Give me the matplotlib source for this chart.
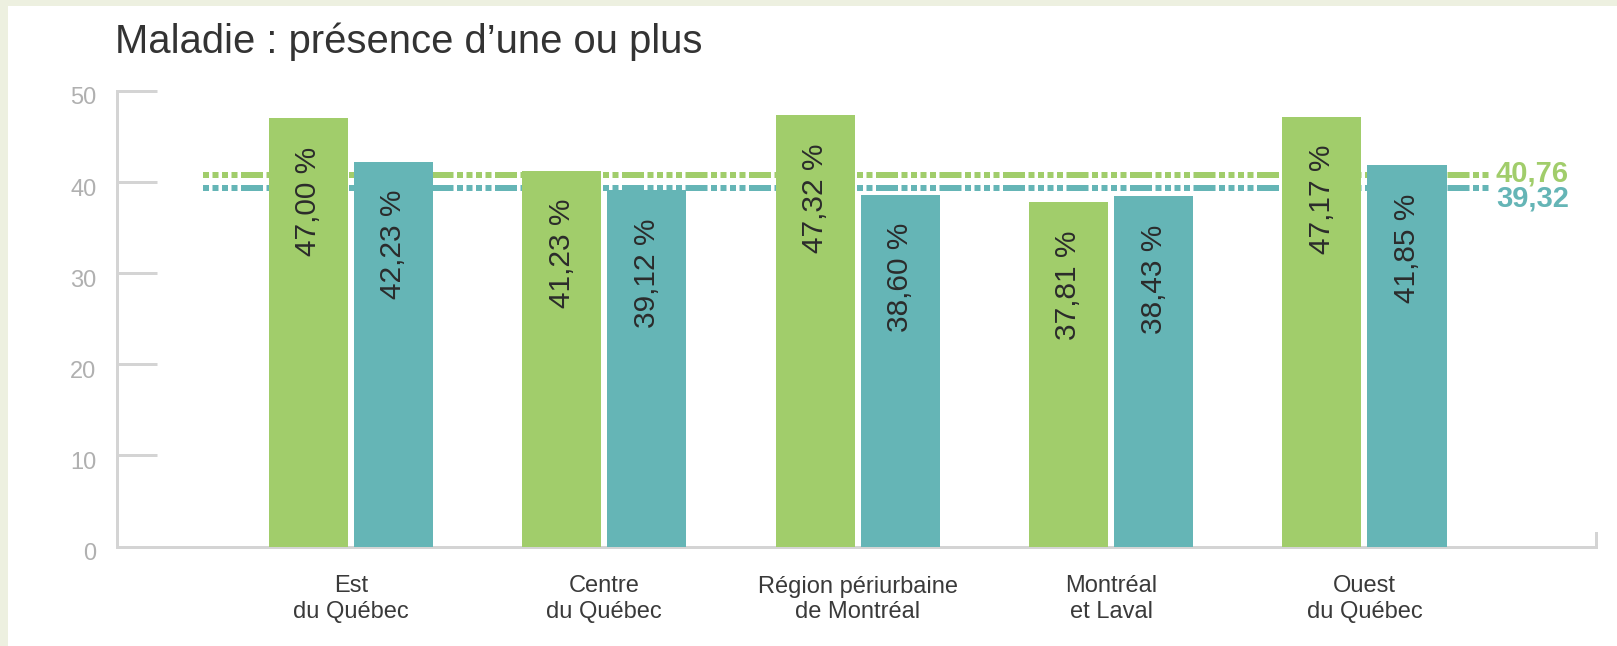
"""
Bar chart: Maladie : présence d'une ou plus, by region.
"""

import matplotlib
matplotlib.use("Agg")  # Non-interactive backend
import matplotlib.pyplot as plt
from matplotlib.patches import Rectangle
from matplotlib.transforms import ScaledTranslation
import numpy as np

# Data
categories = [
    "Est\ndu Québec",
    "Centre\ndu Québec",
    "Région périurbaine\nde Montréal",
    "Montréal\net Laval",
    "Ouest\ndu Québec",
]
green_values = [47.00, 41.23, 47.32, 37.81, 47.17]
teal_values = [42.23, 39.12, 38.60, 38.43, 41.85]
green_mean = 40.76
teal_mean = 39.32
y_ticks = [0, 10, 20, 30, 40, 50]
title = "Maladie : présence d’une ou plus"

# Style
GREEN = "#A1CD6B"
TEAL = "#65B5B6"
AXIS_GRAY = "#D4D4D4"
BEIGE = "#EDF0E0"
W, H, DPI = 1617, 646, 100
PX = 72 / DPI  # points per pixel


def fmt(v):
    return f"{v:.2f}".replace(".", ",")


plt.rcParams["font.family"] = ["Liberation Sans", "DejaVu Sans"]
plt.rcParams["lines.scale_dashes"] = False

fig = plt.figure(figsize=(W / DPI, H / DPI), dpi=DPI)
fig.patch.set_facecolor(BEIGE)
fig.add_artist(Rectangle((8 / W, 0), 1, 1 - 6 / H, transform=fig.transFigure,
                         facecolor="white", edgecolor="none", zorder=0))

ax = fig.add_axes([116.5 / W, 1 - 546.5 / H, (1596 - 116.5) / W, (546.5 - 91) / H])
ax.patch.set_visible(False)

x = np.arange(len(categories))
bar_w, off = 0.312, 0.168
g_bars = ax.bar(x - off, green_values, bar_w, color=GREEN, zorder=3)
t_bars = ax.bar(x + off, teal_values, bar_w, color=TEAL, zorder=3)

# value labels inside bars, rotated
for bars, vals in ((g_bars, green_values), (t_bars, teal_values)):
    for b, v in zip(bars, vals):
        ax.annotate(f"{fmt(v)} %", xy=(b.get_x() + b.get_width() / 2, v),
                    xytext=(0, -28 * PX), textcoords="offset points",
                    rotation=90, ha="center", va="top", fontsize=21.5,
                    color="#2B2B2B", zorder=4)

# average lines (dot-dot-dot-dot-dash)
dashes = [6 * PX, 3.5 * PX] * 4 + [22 * PX, 3.5 * PX]
line_lo, line_hi = -0.584, 4.495
for val, col, dy in ((green_mean, GREEN, 1.5), (teal_mean, TEAL, -10.5)):
    ax.plot([line_lo, line_hi], [val, val], color=col, lw=6 * PX,
            dashes=dashes, zorder=2)
    ax.annotate(fmt(val), xy=(line_hi, val), xytext=(6 * PX, dy * PX),
                textcoords="offset points", ha="left", va="center",
                color=col, fontsize=21, fontweight="bold")

ax.set_xlim(-0.925, 4.914)
ax.set_ylim(0, 50)
for side in ("top", "right"):
    ax.spines[side].set_visible(False)
for side in ("left", "bottom"):
    ax.spines[side].set_color(AXIS_GRAY)
    ax.spines[side].set_linewidth(3 * PX)
ax.axvline(ax.get_xlim()[1], ymin=0, ymax=13 / 455, color=AXIS_GRAY,
           lw=3 * PX, clip_on=False)

ax.set_yticks(y_ticks)
ax.tick_params(axis="y", direction="in", length=40 * PX, width=3 * PX,
               color=AXIS_GRAY, labelcolor="#B0B0B0", labelsize=17, pad=20 * PX)
shift = ScaledTranslation(0, -5 / DPI, fig.dpi_scale_trans)
for lbl in ax.get_yticklabels():
    lbl.set_transform(lbl.get_transform() + shift)

ax.set_xticks(x, categories)
ax.tick_params(axis="x", length=0, labelsize=17, labelcolor="#3A3A3A", pad=29 * PX)

fig.text(115 / W, 1 - 53 / H, title, fontsize=28.8, color="#333333",
         ha="left", va="baseline")

fig.savefig("out.png", dpi=DPI)
plt.close(fig)
